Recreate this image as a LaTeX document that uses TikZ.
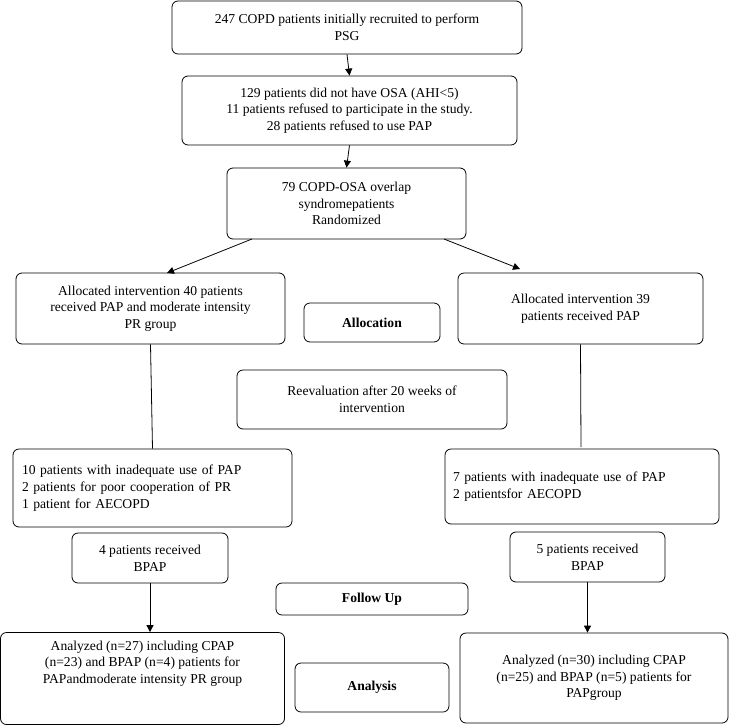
\documentclass[tikz,border=0pt]{standalone}
\usepackage{fontspec}
\setmainfont{Liberation Serif}
\usetikzlibrary{arrows.meta, positioning}
\tikzstyle{box} = [draw, thick, rectangle, rounded corners=6pt, align=center, font=\fontsize{13.6}{16.7}\selectfont, inner sep=2pt]
\tikzstyle{tag} = [box, font=\fontsize{13.6}{16.7}\selectfont\bfseries]
\tikzstyle{path} = [-{Triangle[length=7pt, width=7pt]}, thick]

\begin{document}
\begin{tikzpicture}[x=1pt, y=-1pt]
    \useasboundingbox (0, 0) rectangle (736, 726);

    % Boxes.
    \node (recruited) [box, minimum width=350, minimum height=53] at (347, 27.5) {247 COPD patients initially recruited to perform\\PSG};
    \node (excluded) [box, minimum width=335, minimum height=69] at (349.5, 110.5) {129 patients did not have OSA (AHI\textless5)\\11 patients refused to participate in the study.\\28 patients refused to use PAP};
    \node (randomized) [box, minimum width=239, minimum height=71] at (346.5, 203.5) {79 COPD-OSA overlap\\syndromepatients\\Randomized};

    \node (left alloc) [box, minimum width=269, minimum height=71] at (150.5, 308.5) {Allocated intervention 40 patients\\received PAP and moderate intensity\\PR group};
    \node (right alloc) [box, minimum width=245, minimum height=71] at (580.5, 308.5) {Allocated intervention 39\\patients received PAP};
    \node (allocation) [tag, minimum width=136, minimum height=39] at (372, 322.5) {Allocation};
    \node (reevaluation) [box, minimum width=270, minimum height=59] at (372, 399.5) {Reevaluation after 20 weeks of\\intervention};

    \node (left loss) [box, minimum width=279, minimum height=78, align=left, text width=261] at (152.5, 488) {10 patients with inadequate use of PAP\\2 patients for poor cooperation of PR\\1 patient for AECOPD};
    \node (right loss) [box, minimum width=274, minimum height=75, align=left, text width=258] at (582, 486.5) {7 patients with inadequate use of PAP\\2 patientsfor AECOPD};
    \node (left bpap) [box, minimum width=156, minimum height=50] at (150, 558) {4 patients received\\BPAP};
    \node (right bpap) [box, minimum width=155, minimum height=50] at (587.5, 557) {5 patients received\\BPAP};
    \node (follow up) [tag, minimum width=192, minimum height=32] at (372, 599) {Follow Up};

    \node (left result) [box, minimum width=284, minimum height=92] at (142.5, 678.5) {Analyzed (n=27) including CPAP\\(n=23) and BPAP (n=4) patients for\\PAPandmoderate intensity PR group\\[16pt]};
    \node (analysis) [tag, minimum width=154, minimum height=49] at (372, 687.5) {Analysis};
    \node (right result) [box, minimum width=268, minimum height=90] at (594, 678) {Analyzed (n=30) including CPAP\\(n=25) and BPAP (n=5) patients for\\PAPgroup};

    % Paths.
    \draw [path] (252, 239) -- (167, 273);
    \draw [path] (444, 239) -- (520, 269);
    \draw [path] (recruited.south) -- (excluded.north);
    \draw [path] (excluded.south) -- (randomized.north);
    \draw [thick] (left alloc.south) -- (left loss.north);
    \draw [thick] (right alloc.south) -- (581, 447);
    \draw [path] (left bpap.south) -- (left result.north -| left bpap.south);
    \draw [path] (right bpap.south) -- (right result.north -| right bpap.south);
\end{tikzpicture}
\end{document}
